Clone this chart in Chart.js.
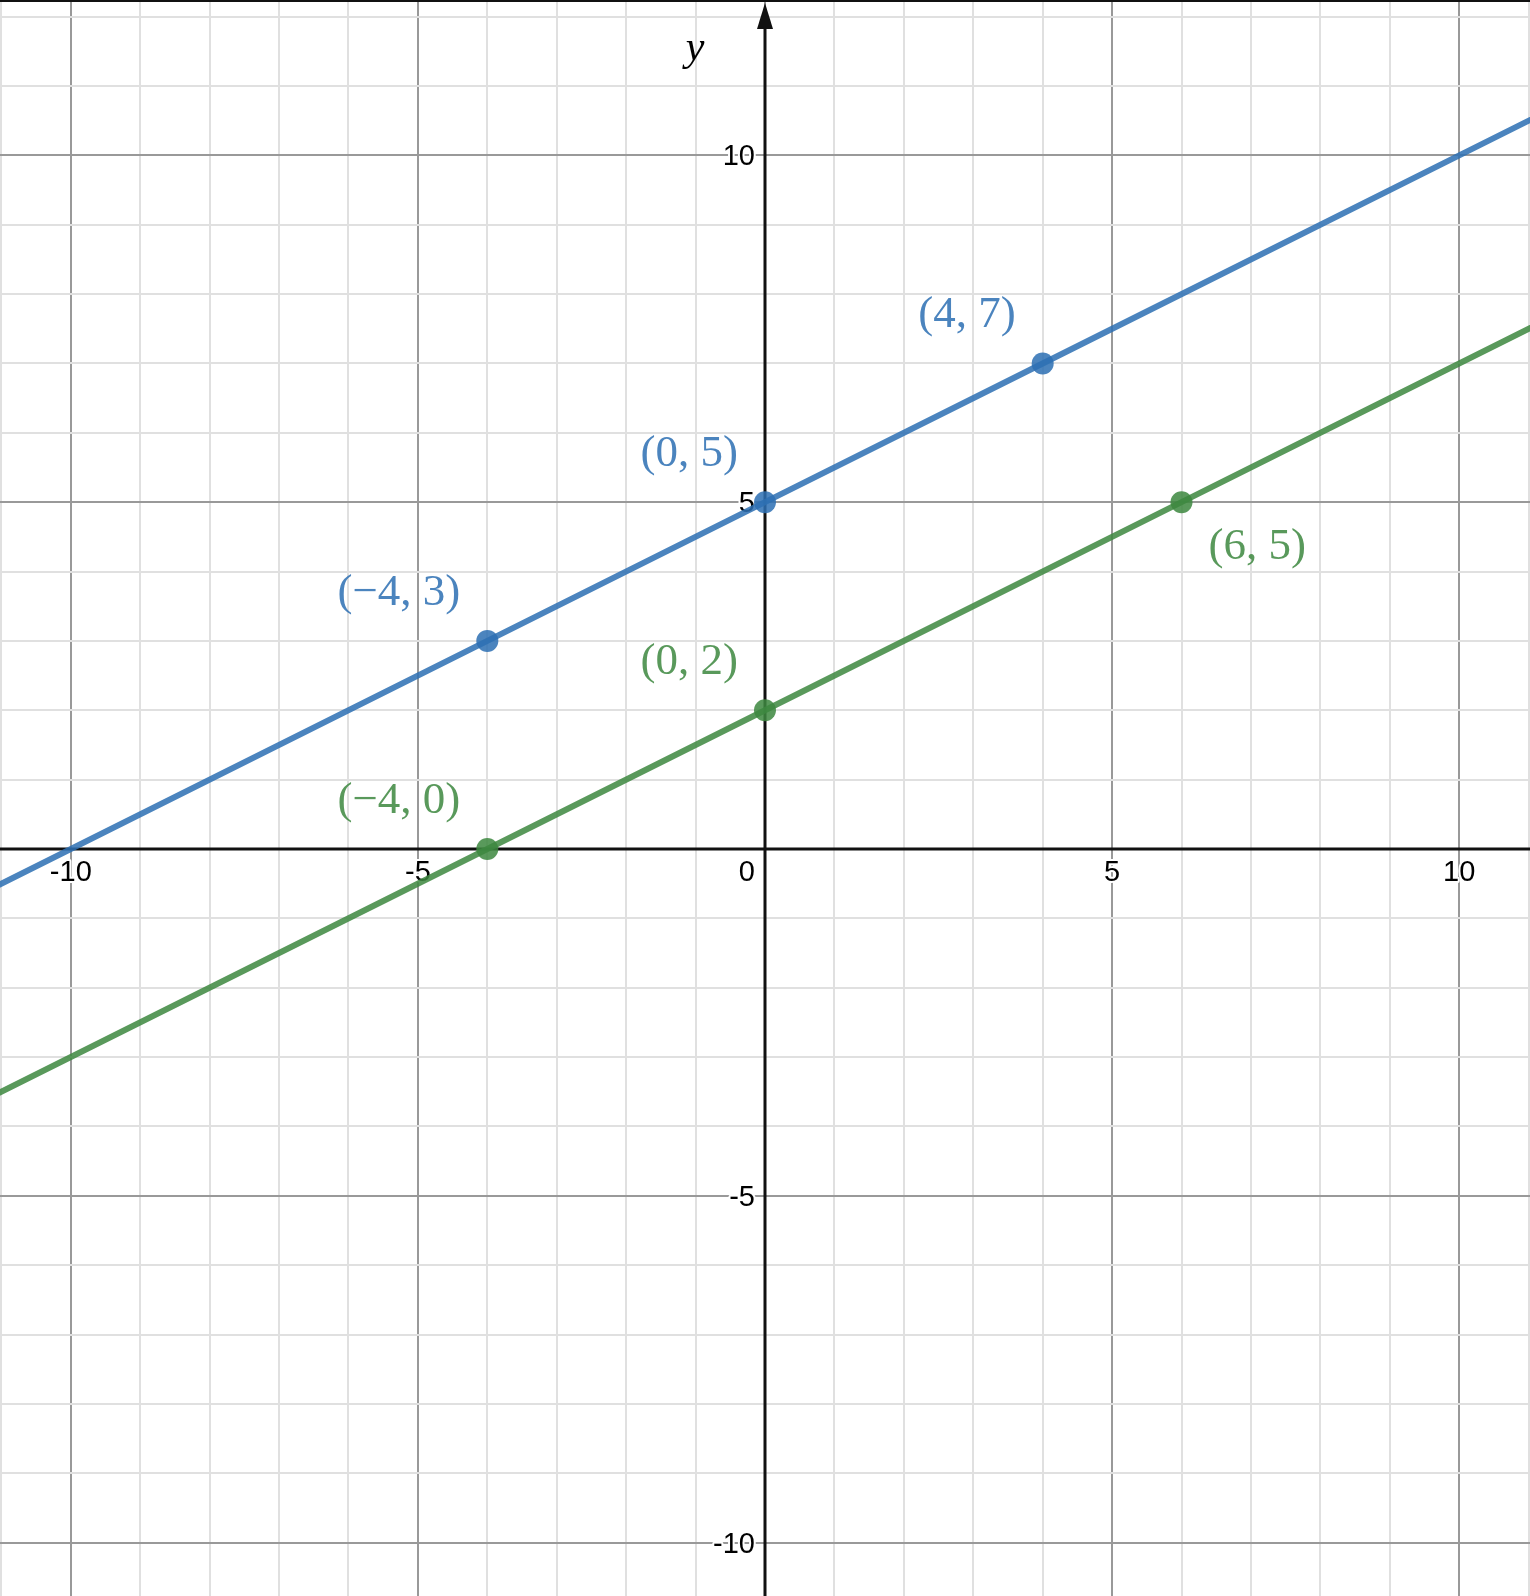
<!DOCTYPE html>
<html>
<head>
<meta charset="utf-8">
<script src="https://cdn.jsdelivr.net/npm/chart.js@4.4.1/dist/chart.umd.min.js"></script>
<style>
  html, body { margin: 0; padding: 0; background: #fff; }
  #wrap { width: 1530px; height: 1596px; position: relative; }
</style>
</head>
<body>
<div id="wrap"><canvas id="graph"></canvas></div>
<script>
// two parallel lines, both run off the edges of the view
var blueX = [-12, -4, 0, 4, 12];
var blueY = [-1, 3, 5, 7, 11];
var greenX = [-12, -4, 0, 6, 12];
var greenY = [-4, 0, 2, 5, 8];

// marked points with their labels
var bluePtX = [-4, 0, 4];
var bluePtY = [3, 5, 7];
var bluePtLabels = ["(\u22124, 3)", "(0, 5)", "(4, 7)"];
var greenPtX = [-4, 0, 6];
var greenPtY = [0, 2, 5];
var greenPtLabels = ["(\u22124, 0)", "(0, 2)", "(6, 5)"];
var greenPtBelow = [false, false, true];

// axis numbers
var xTickVals = [-10, -5, 0, 5, 10];
var xTickLabels = ["-10", "-5", "0", "5", "10"];
var yTickVals = [-10, -5, 5, 10];
var yTickLabels = ["-10", "-5", "5", "10"];

var BLUE = "rgba(45,112,179,0.86)";
var GREEN = "rgba(62,136,64,0.86)";

function pts(xs, ys) {
  return xs.map(function (x, i) { return {x: x, y: ys[i]}; });
}

var graphPaper = {
  id: "graphPaper",
  beforeDatasetsDraw: function (chart) {
    var ctx = chart.ctx, xs = chart.scales.x, ys = chart.scales.y, a = chart.chartArea;
    var x0 = xs.getPixelForValue(0), y0 = ys.getPixelForValue(0);
    ctx.save();
    // axes
    ctx.strokeStyle = "#111";
    ctx.lineWidth = 3;
    ctx.beginPath();
    ctx.moveTo(a.left, y0); ctx.lineTo(a.right, y0);
    ctx.moveTo(x0, a.bottom); ctx.lineTo(x0, a.top + 22);
    ctx.stroke();
    ctx.fillStyle = "#111";
    ctx.beginPath();
    ctx.moveTo(x0, a.top + 3);
    ctx.lineTo(x0 - 8, a.top + 29);
    ctx.lineTo(x0 + 8, a.top + 29);
    ctx.closePath();
    ctx.fill();
    ctx.fillRect(a.left, a.top, a.right - a.left, 2);

    // tick numbers with a white halo
    ctx.font = "29px 'Liberation Sans', Arial, sans-serif";
    ctx.lineJoin = "round";
    ctx.strokeStyle = "#fff";
    ctx.lineWidth = 4;
    ctx.fillStyle = "#000";
    ctx.textBaseline = "alphabetic";
    xTickVals.forEach(function (v, i) {
      var tx = xs.getPixelForValue(v);
      ctx.textAlign = "center";
      if (v === 0) { tx = x0 - 10; ctx.textAlign = "right"; }
      ctx.strokeText(xTickLabels[i], tx, y0 + 32);
      ctx.fillText(xTickLabels[i], tx, y0 + 32);
    });
    ctx.textAlign = "right";
    yTickVals.forEach(function (v, i) {
      var py = ys.getPixelForValue(v);
      ctx.strokeText(yTickLabels[i], x0 - 10, py + 10);
      ctx.fillText(yTickLabels[i], x0 - 10, py + 10);
    });

    ctx.font = "italic 42px 'Liberation Serif', 'DejaVu Serif', serif";
    ctx.textAlign = "center";
    ctx.fillText("y", x0 - 70, a.top + 60);
    ctx.restore();
  },
  afterDatasetsDraw: function (chart) {
    var ctx = chart.ctx, xs = chart.scales.x, ys = chart.scales.y;
    ctx.save();
    ctx.font = "45px 'Liberation Serif', 'DejaVu Serif', serif";
    ctx.textBaseline = "middle";
    function put(txt, x, y, color, below) {
      var px = xs.getPixelForValue(x), py = ys.getPixelForValue(y);
      ctx.fillStyle = color;
      if (below) {
        ctx.textAlign = "left";
        ctx.fillText(txt, px + 27, py + 45);
      } else {
        ctx.textAlign = "right";
        ctx.fillText(txt, px - 27, py - 48);
      }
    }
    bluePtLabels.forEach(function (t, i) { put(t, bluePtX[i], bluePtY[i], BLUE, false); });
    greenPtLabels.forEach(function (t, i) { put(t, greenPtX[i], greenPtY[i], GREEN, greenPtBelow[i]); });
    ctx.restore();
  }
};

function gridColor(c) {
  var v = c.tick ? c.tick.value : 1;
  return v % 5 === 0 ? "#999" : "#e0e0e0";
}

new Chart("graph", {
  type: "scatter",
  data: {
    datasets: [
      { data: pts(bluePtX, bluePtY), backgroundColor: BLUE, borderWidth: 0, pointRadius: 11, showLine: false },
      { data: pts(greenPtX, greenPtY), backgroundColor: GREEN, borderWidth: 0, pointRadius: 11, showLine: false },
      { data: pts(blueX, blueY), borderColor: BLUE, borderWidth: 6, pointRadius: 0, showLine: true },
      { data: pts(greenX, greenY), borderColor: GREEN, borderWidth: 6, pointRadius: 0, showLine: true }
    ]
  },
  options: {
    responsive: true,
    maintainAspectRatio: false,
    animation: false,
    layout: { padding: 0, autoPadding: false },
    plugins: { legend: { display: false }, tooltip: { enabled: false } },
    scales: {
      x: {
        type: "linear", min: -11.02, max: 11.02,
        border: { display: false },
        grid: { color: gridColor, lineWidth: 2, drawTicks: false },
        ticks: { display: false, stepSize: 1, includeBounds: false }
      },
      y: {
        type: "linear", min: -10.77, max: 12.24,
        border: { display: false },
        grid: { color: gridColor, lineWidth: 2, drawTicks: false },
        ticks: { display: false, stepSize: 1, includeBounds: false }
      }
    }
  },
  plugins: [graphPaper]
});
</script>
</body>
</html>
